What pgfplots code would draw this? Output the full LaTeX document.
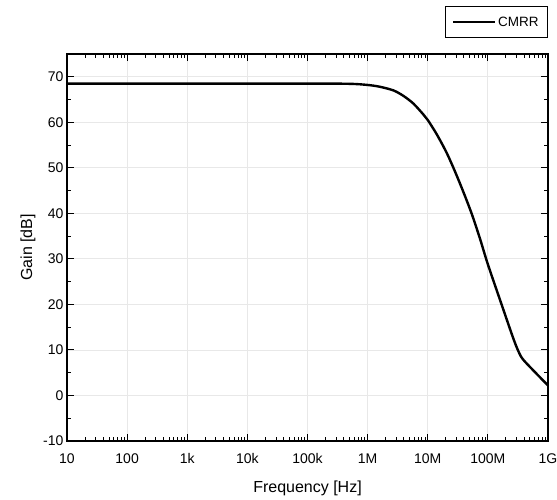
\documentclass[border=0pt]{standalone}
\usepackage{fontspec}
\setmainfont{Liberation Sans}
\usepackage{pgfplots}
\pgfplotsset{compat=1.18}
\begin{document}
\begin{tikzpicture}
\path[use as bounding box] (-67pt,-59pt) rectangle (490pt,441pt);
\begin{axis}[
  at={(0pt,0pt)}, anchor=south west,
  scale only axis, width=481pt, height=387pt,
  xmode=log, xmin=10, xmax=1e9,
  ymin=-10, ymax=75,
  xtick={1e1,1e2,1e3,1e4,1e5,1e6,1e7,1e8,1e9},
  xticklabels={10,100,1k,10k,100k,1M,10M,100M,1G},
  ytick={-10,0,10,20,30,40,50,60,70},
  minor y tick num=1,
  tick align=inside,
  major tick length=7pt, minor tick length=4pt,
  every tick/.style={black, line width=1pt},
  axis line style={line width=1.2pt, black},
  grid=major,
  major grid style={gray!18, line width=0.8pt},
  ticklabel style={font=\fontsize{14}{16}\selectfont},
  xticklabel style={yshift=-9pt},
  /pgf/number format/assume math mode=true,
  xlabel={Frequency [Hz]}, ylabel={Gain [dB]},
  label style={font=\fontsize{16}{18}\selectfont},
  xlabel style={yshift=-10pt},
  ylabel style={yshift=1pt},
  legend style={at={(rel axis cs:1,1)}, anchor=south east, yshift=16pt,
    draw=black, line width=0.6pt, font=\fontsize{13.5}{16}\selectfont,
    inner xsep=7pt, inner ysep=8pt},
  legend image code/.code={\draw[#1] (0pt,0pt) -- (42pt,0pt);},
  legend cell align=left,
]
\addplot[black, line width=2.4pt, smooth, tension=0.5] coordinates {
(10,68.5) (1e3,68.5) (1e5,68.5) (5e5,68.45) (1e6,68.2) (1.6e6,67.8)
(2.69e6,67.0) (3.94e6,65.8) (5.78e6,64.1) (8.47e6,61.7) (1e7,60.5)
(1.42e7,57.3) (2.08e7,53.2) (2.9e7,48.9) (3.94e7,44.6) (5.42e7,39.8)
(7.45e7,34.3) (1e8,28.8) (1.71e8,19.8) (2.67e8,12.4) (3.3e8,9.4)
(3.91e8,7.8) (6.53e8,4.7) (1e9,2.2)
};
\addlegendentry{CMRR}
\end{axis}
\end{tikzpicture}
\end{document}
